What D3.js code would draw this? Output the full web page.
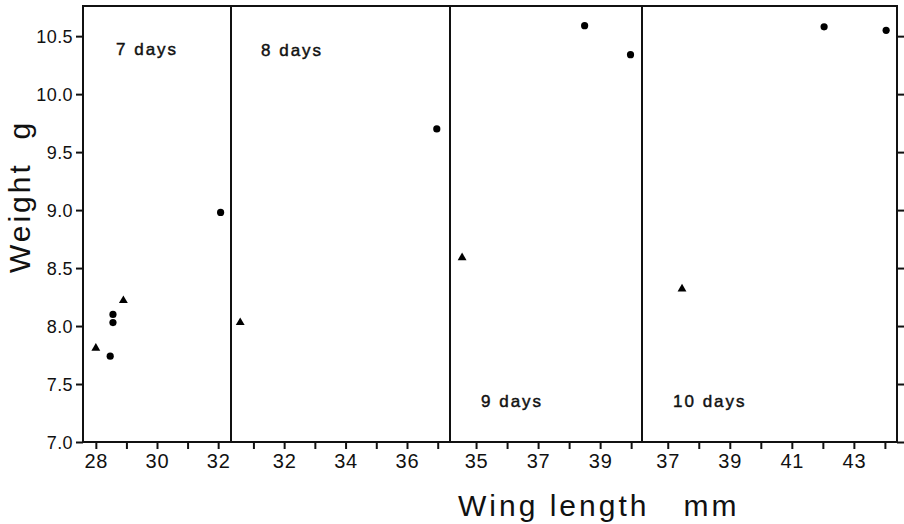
<!DOCTYPE html>
<html>
<head>
<meta charset="utf-8">
<script src="https://cdn.jsdelivr.net/npm/d3@7"></script>
<style>
  html, body { margin: 0; padding: 0; background: #fff; }
  svg { display: block; }
  text { font-family: "Liberation Sans", Arial, Helvetica, sans-serif; fill: #111; }
</style>
</head>
<body>
<svg id="chart" width="904" height="524"></svg>
<script>
// ---------------- data ----------------
const panelLabels = ["7 days", "8 days", "9 days", "10 days"];
const wingDomains = [[27.58, 32.42], [30.27, 37.4], [34.16, 40.35], [36.17, 44.39]];
const majorTicks = [[28, 30, 32], [32, 34, 36], [35, 37, 39], [37, 39, 41, 43]];
const minorTicks = [[29, 31], [31, 33, 35, 37], [36, 38, 40], [38, 40, 42, 44]];
const circleWing = [[28.47, 28.56, 28.56, 32.08], [36.97], [38.5, 39.98], [42.04, 44.04]];
const circleWeight = [[7.74, 8.10, 8.03, 8.98], [9.70], [10.59, 10.34], [10.58, 10.55]];
const triangleWing = [[28.0, 28.9], [30.57], [34.55], [37.46]];
const triangleWeight = [[7.81, 8.22], [8.03], [8.59], [8.32]];
const weightTicks = [7.0, 7.5, 8.0, 8.5, 9.0, 9.5, 10.0, 10.5];
const weightDomain = [7.0, 10.76];
const xTitle = "Wing length   mm";
const yTitle = "Weight  g";

// ---------------- layout ----------------
const svg = d3.select("#chart");
const pLeft = 83, pRight = 897, pTop = 6, pBottom = 442;
const dividers = [pLeft, 231, 450, 642, pRight];
const labelPos = [
  { x: 116, y: 55 }, { x: 261, y: 56 }, { x: 481, y: 407 }, { x: 673, y: 407 }
];

const yScale = d3.scaleLinear().domain(weightDomain).range([pBottom, pTop]);

// Y axis left
const yAxis = svg.append("g").attr("transform", `translate(${pLeft},0)`)
  .call(d3.axisLeft(yScale).tickValues(weightTicks).tickFormat(d3.format(".1f")).tickSize(7).tickPadding(3));
yAxis.select(".domain").remove();
yAxis.selectAll(".tick line").attr("stroke", "#111").attr("stroke-width", 2);
yAxis.selectAll(".tick text")
  .attr("font-size", 18).attr("letter-spacing", "0.4px")
  .attr("font-family", "Liberation Sans, Arial, sans-serif")
  .attr("fill", "#111").attr("dy", "0.36em");

// Y axis right (ticks only)
const yAxisR = svg.append("g").attr("transform", `translate(${pRight},0)`)
  .call(d3.axisRight(yScale).tickValues(weightTicks).tickFormat("").tickSize(8));
yAxisR.select(".domain").remove();
yAxisR.selectAll(".tick line").attr("stroke", "#111").attr("stroke-width", 2);

// Panels
panelLabels.forEach((lab, i) => {
  const x = d3.scaleLinear().domain(wingDomains[i]).range([dividers[i], dividers[i + 1]]);
  const g = svg.append("g");

  const allTicks = majorTicks[i].concat(minorTicks[i]);
  const ax = g.append("g").attr("transform", `translate(0,${pBottom})`)
    .call(d3.axisBottom(x).tickValues(allTicks)
      .tickFormat(d => majorTicks[i].includes(d) ? String(d) : "")
      .tickSize(7).tickPadding(5));
  ax.select(".domain").remove();
  ax.selectAll(".tick line").attr("stroke", "#111").attr("stroke-width", 2);
  ax.selectAll(".tick text")
    .attr("font-size", 20).attr("letter-spacing", "0.8px")
    .attr("font-family", "Liberation Sans, Arial, sans-serif")
    .attr("fill", "#111");

  // circles
  g.selectAll("circle.pt").data(circleWing[i].map((w, k) => [w, circleWeight[i][k]]))
    .join("circle").attr("class", "pt")
    .attr("cx", d => x(d[0])).attr("cy", d => yScale(d[1]))
    .attr("r", 3.6).attr("fill", "#000");

  // triangles
  const tri = d3.symbol().type(d3.symbolTriangle).size(34);
  g.selectAll("path.tri").data(triangleWing[i].map((w, k) => [w, triangleWeight[i][k]]))
    .join("path").attr("class", "tri")
    .attr("d", tri)
    .attr("transform", d => `translate(${x(d[0])},${yScale(d[1])})`)
    .attr("fill", "#000");

  // panel label
  g.append("text")
    .attr("x", labelPos[i].x).attr("y", labelPos[i].y)
    .attr("font-size", 17).attr("letter-spacing", "2px")
    .attr("stroke", "#111").attr("stroke-width", 0.45)
    .text(lab);
});

// dividers
svg.append("g").selectAll("line").data(dividers.slice(1, -1)).join("line")
  .attr("x1", d => d).attr("x2", d => d).attr("y1", pTop).attr("y2", pBottom)
  .attr("stroke", "#111").attr("stroke-width", 2);

// frame
svg.append("rect").attr("x", pLeft).attr("y", pTop)
  .attr("width", pRight - pLeft).attr("height", pBottom - pTop)
  .attr("fill", "none").attr("stroke", "#111").attr("stroke-width", 2);

// axis titles
svg.append("text")
  .attr("x", 458).attr("y", 516)
  .attr("font-size", 30).attr("letter-spacing", "3px")
  .style("white-space", "pre")
  .text(xTitle);

svg.append("text")
  .attr("transform", "translate(30,273) rotate(-90)")
  .attr("x", 0).attr("y", 0)
  .attr("font-size", 30).attr("letter-spacing", "3px")
  .style("white-space", "pre")
  .text(yTitle);
</script>
</body>
</html>
